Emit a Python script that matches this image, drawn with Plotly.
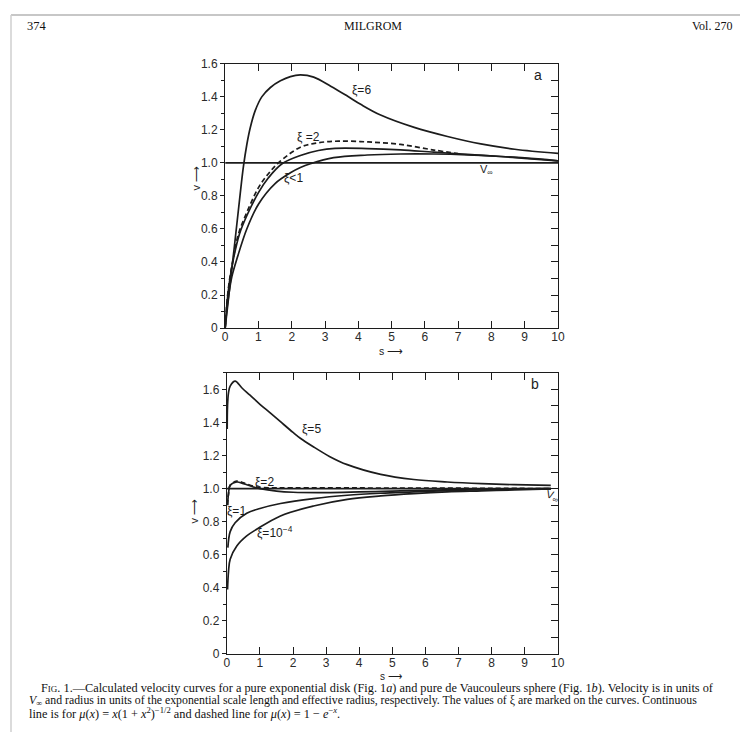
import plotly.graph_objects as go

# ---------------- data: panel a (exponential disk) ----------------
a_xi6_s = [0, 0.1, 0.28, 0.45, 0.55, 0.65, 0.75, 0.9, 1.1, 1.36, 1.66, 1.96, 2.26, 2.66, 3.17, 3.67, 4.07, 4.67, 5.68, 6.68, 7.68, 8.7, 10]
a_xi6_v = [0, 0.18, 0.5, 0.81, 0.98, 1.11, 1.21, 1.315, 1.40, 1.457, 1.497, 1.523, 1.533, 1.52, 1.465, 1.405, 1.355, 1.29, 1.215, 1.16, 1.115, 1.083, 1.058]

a_xi2_s = [0, 0.05, 0.13, 0.25, 0.43, 0.65, 1.0, 1.3, 1.71, 2.26, 2.8, 3.3, 4.27, 5.27, 6.27, 7.28, 8.28, 9.0, 10]
a_xi2_v = [0, 0.14, 0.28, 0.42, 0.57, 0.68, 0.82, 0.91, 0.995, 1.045, 1.075, 1.088, 1.087, 1.079, 1.065, 1.052, 1.039, 1.028, 1.013]

a_xi2d_s = [0, 0.05, 0.13, 0.25, 0.4, 0.65, 1.0, 1.26, 1.6, 2.26, 2.8, 3.4, 4.3, 5.27, 6.27, 7.0]
a_xi2d_v = [0, 0.15, 0.29, 0.43, 0.57, 0.7, 0.85, 0.925, 1.0, 1.095, 1.122, 1.132, 1.127, 1.112, 1.078, 1.056]

a_xi1_s = [0, 0.05, 0.1, 0.2, 0.37, 0.65, 1.0, 1.5, 1.96, 2.26, 2.56, 3.26, 4.27, 5.27, 6.27, 7.28, 8.28, 9.0, 10]
a_xi1_v = [0, 0.11, 0.19, 0.31, 0.43, 0.6, 0.75, 0.875, 0.94, 0.972, 0.995, 1.032, 1.048, 1.054, 1.054, 1.049, 1.039, 1.03, 1.013]

a_vinf_s = [0, 10]
a_vinf_v = [1.0, 1.0]

# ---------------- data: panel b (de Vaucouleurs sphere) ----------------
b_xi5_s = [0.01, 0.02, 0.05, 0.1, 0.25, 0.45, 0.7, 1.0, 1.3, 1.62, 2.0, 2.22, 2.6, 3.1, 3.64, 4.65, 5.65, 6.66, 7.7, 8.68, 9.79]
b_xi5_v = [1.36, 1.5, 1.58, 1.62, 1.65, 1.61, 1.565, 1.51, 1.46, 1.405, 1.34, 1.305, 1.255, 1.195, 1.145, 1.086, 1.055, 1.04, 1.03, 1.024, 1.02]

b_xi2_s = [0.02, 0.05, 0.1, 0.3, 0.5, 0.8, 1.0, 1.5, 2.0, 3.0, 4.0, 5.0, 6.0, 7.0, 8.0, 9.79]
b_xi2_v = [0.9, 0.97, 1.02, 1.04, 1.03, 1.01, 1.0, 0.985, 0.978, 0.976, 0.98, 0.985, 0.99, 0.995, 0.998, 1.0]

b_xi2d_s = [0.02, 0.05, 0.1, 0.3, 0.5, 0.8, 1.1, 2.0, 4.0, 6.0, 8.0, 9.79]
b_xi2d_v = [0.9, 0.97, 1.02, 1.045, 1.035, 1.015, 1.006, 1.005, 1.004, 1.003, 1.002, 1.0]

b_xi1_s = [0.03, 0.1, 0.25, 0.6, 1.0, 1.62, 2.62, 3.64, 4.65, 5.65, 6.66, 7.7, 8.7, 9.79]
b_xi1_v = [0.643, 0.74, 0.794, 0.851, 0.88, 0.91, 0.94, 0.96, 0.972, 0.98, 0.988, 0.993, 0.997, 1.0]

b_xi4_s = [0.02, 0.05, 0.1, 0.3, 0.6, 0.9, 1.62, 2.62, 3.64, 4.65, 5.65, 6.66, 7.7, 8.7, 9.79]
b_xi4_v = [0.39, 0.5, 0.573, 0.653, 0.714, 0.754, 0.835, 0.895, 0.935, 0.956, 0.97, 0.98, 0.986, 0.992, 0.998]

b_vinf_s = [0, 9.8]
b_vinf_v = [1.0, 1.0]

# ---------------- tick labels ----------------
x_tickvals = [0, 1, 2, 3, 4, 5, 6, 7, 8, 9, 10]
x_ticktext = ["0", "1", "2", "3", "4", "5", "6", "7", "8", "9", "10"]
y_tickvals = [0, 0.2, 0.4, 0.6, 0.8, 1.0, 1.2, 1.4, 1.6]
y_ticktext = ["0", "0.2", "0.4", "0.6", "0.8", "1.0", "1.2", "1.4", "1.6"]

INK = "#1c1c1c"
LW = 1.7
PAGE_W, PAGE_H = 755, 747
OFF = 8                      # default page margin of the html body
W, H = PAGE_W - 2 * OFF, PAGE_H - 2 * OFF
# empirical mapping of page pixels to the photographed picture
KX, AX = 0.984, 3.5
KY, AY = 0.984, 6.1

def PX(x):
    return ((x - AX) / KX - OFF) / W

def PY(y):
    return 1 - ((y - AY) / KY - OFF) / H

fig = go.Figure()

def add_line(xs, ys, xa, ya, dash="solid"):
    fig.add_trace(go.Scatter(x=xs, y=ys, mode="lines", xaxis=xa, yaxis=ya,
                             line=dict(color=INK, width=LW, dash=dash, shape="spline", smoothing=1.0),
                             showlegend=False, hoverinfo="skip"))

# panel a
add_line(a_vinf_s, a_vinf_v, "x", "y2")
add_line(a_xi6_s, a_xi6_v, "x", "y")
add_line(a_xi2_s, a_xi2_v, "x", "y")
add_line(a_xi2d_s, a_xi2d_v, "x", "y", dash="5px,3px")
add_line(a_xi1_s, a_xi1_v, "x", "y")
# panel b
add_line(b_vinf_s, b_vinf_v, "x2", "y4")
add_line(b_xi5_s, b_xi5_v, "x2", "y3")
add_line(b_xi2_s, b_xi2_v, "x2", "y3")
add_line(b_xi2d_s, b_xi2d_v, "x2", "y3", dash="5px,3px")
add_line(b_xi1_s, b_xi1_v, "x2", "y3")
add_line(b_xi4_s, b_xi4_v, "x2", "y3")

TF = dict(family="Liberation Sans, Arial, sans-serif", size=12, color="#2a2a2a")

def xaxis_cfg(domain, anchor):
    return dict(domain=domain, anchor=anchor, range=[0, 10], tickmode="array",
                tickvals=x_tickvals, ticktext=x_ticktext, ticks="inside", ticklen=7,
                tickwidth=1.2, tickcolor=INK, showline=True, linecolor=INK, linewidth=1.3,
                mirror="ticks", showgrid=False, zeroline=False, tickfont=TF,
                ticklabelstandoff=-3)

def yaxis_cfg(domain, anchor, top):
    return dict(domain=domain, anchor=anchor, range=[0, top], tickmode="array",
                tickvals=y_tickvals, ticktext=y_ticktext, ticks="outside", ticklen=4,
                tickwidth=1.2, tickcolor=INK, showline=True, linecolor=INK, linewidth=1.3,
                mirror=True, showgrid=False, zeroline=False, tickfont=TF,
                minor=dict(ticks="outside", ticklen=3, dtick=0.1, tickcolor=INK, tickwidth=1))

def yright_cfg(domain, anchor, overlay, top):
    return dict(domain=domain, anchor=anchor, overlaying=overlay, side="right",
                range=[0, top], dtick=0.1, tick0=0, ticks="inside", ticklen=7, tickwidth=1.2,
                tickcolor=INK, showticklabels=False, showline=False, showgrid=False,
                zeroline=False)

xa_dom = [PX(225), PX(557)]
xb_dom = [PX(226.7), PX(556.7)]
ya_dom = [PY(328), PY(63)]
yb_dom = [PY(655), PY(373)]

fig.update_layout(
    width=W, height=H, margin=dict(l=0, r=0, t=0, b=0),
    paper_bgcolor="white", plot_bgcolor="rgba(0,0,0,0)", showlegend=False,
    xaxis=xaxis_cfg(xa_dom, "y"),
    yaxis=yaxis_cfg(ya_dom, "x", 1.6),
    yaxis2=yright_cfg(ya_dom, "x", "y", 1.6),
    xaxis2=xaxis_cfg(xb_dom, "y3"),
    yaxis3=yaxis_cfg(yb_dom, "x2", 1.7),
    yaxis4=yright_cfg(yb_dom, "x2", "y3", 1.7),
)

LF = dict(family="Liberation Sans, Arial, sans-serif", size=11, color=INK)
ann = []
def lab(text, x, y, xr, yr, size=11, angle=0, xanchor="center"):
    ann.append(dict(text=text, x=x, y=y, xref=xr, yref=yr, showarrow=False,
                    font=dict(LF, size=size), textangle=angle, xanchor=xanchor, yanchor="middle"))

# panel a labels
lab("ξ=6", 4.1, 1.44, "x", "y", size=12)
lab("ξ =2", 2.5, 1.155, "x", "y", size=12)
lab("ξ<1", 2.05, 0.91, "x", "y", size=12)
lab("V<sub>∞</sub>", 7.85, 0.955, "x", "y", size=11)
lab("a", 9.4, 1.53, "x", "y", size=14)
# panel b labels
lab("ξ=5", 2.55, 1.36, "x2", "y3", size=12)
lab("ξ=2", 1.15, 1.04, "x2", "y3", size=12)
lab("ξ=1", 0.3, 0.862, "x2", "y3", size=12)
lab("ξ=10<sup>−4</sup>", 1.45, 0.735, "x2", "y3", size=12)
lab("V<sub>∞</sub>", 9.85, 0.955, "x2", "y3", size=11, angle=15)
lab("b", 9.3, 1.63, "x2", "y3", size=14)

def px(text, x, y, size=12, angle=0, family="Liberation Sans, Arial, sans-serif", xanchor="center", color=INK):
    ann.append(dict(text=text, x=PX(x), y=PY(y), xref="paper", yref="paper", showarrow=False,
                    font=dict(family=family, size=size, color=color), textangle=angle,
                    xanchor=xanchor, yanchor="middle", borderpad=0))

# axis titles
px("v ⟶", 195, 178, size=11, angle=-90)
px("v ⟶", 194, 512, size=11, angle=-90)
px("s ⟶", 390, 351, size=10.5)
px("s ⟶", 390, 678, size=10)

SERIF = "Liberation Serif, Times New Roman, serif"
px("374", 26, 25, size=12.5, family=SERIF, xanchor="left", color="#111")
px("MILGROM", 372, 25, size=12, family=SERIF, color="#111")
px("Vol. 270", 732, 25, size=12, family=SERIF, xanchor="right", color="#111")

cap1 = ("F<span style='font-size:9px'>IG</span>. 1.—Calculated velocity curves for a pure exponential disk "
        "(Fig. 1<i>a</i>) and pure de Vaucouleurs sphere (Fig. 1<i>b</i>). Velocity is in units of")
cap2 = ("<i>V</i><sub>∞</sub> and radius in units of the exponential scale length and effective radius, "
        "respectively. The values of ξ are marked on the curves. Continuous")
cap3 = ("line is for <i>μ</i>(<i>x</i>) = <i>x</i>(1 + <i>x</i><sup>2</sup>)<sup>−1/2</sup> and dashed line "
        "for <i>μ</i>(<i>x</i>) = 1 − <i>e</i><sup>−<i>x</i></sup>.")
px(cap1, 40, 689, size=12.3, family=SERIF, xanchor="left", color="#111")
px(cap2, 28, 701.5, size=11.8, family=SERIF, xanchor="left", color="#111")
px(cap3, 28, 714, size=12.3, family=SERIF, xanchor="left", color="#111")

fig.update_layout(annotations=ann)

# scan border lines
fig.add_shape(type="line", xref="paper", yref="paper", x0=0, x1=1, y0=1, y1=1,
              line=dict(color="#b5b5b5", width=1.5))
fig.add_shape(type="line", xref="paper", yref="paper", x0=0, x1=0, y0=0, y1=1,
              line=dict(color="#cfcfcf", width=1.5))

fig.write_html("out.html")
